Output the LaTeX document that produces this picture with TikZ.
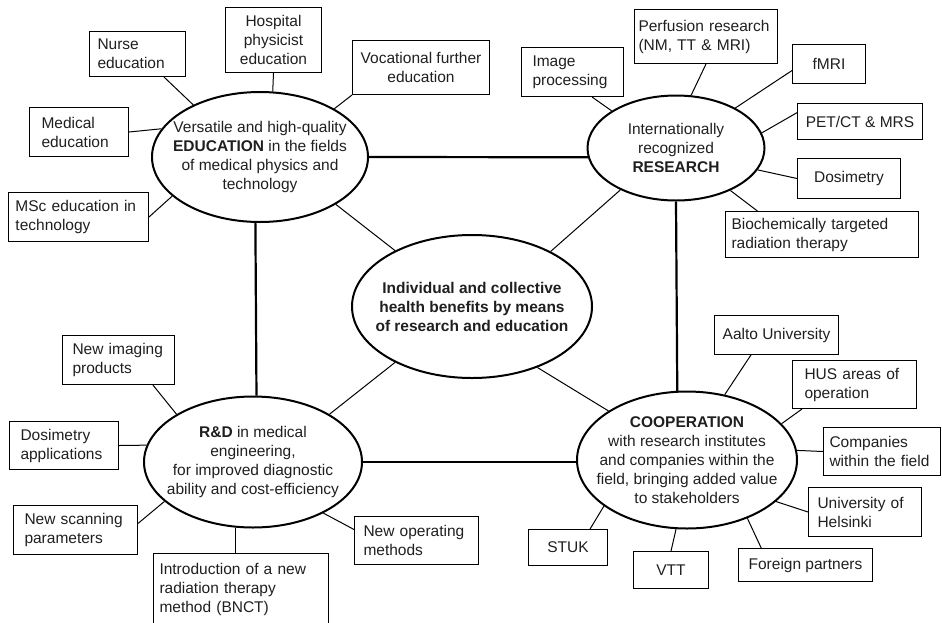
\documentclass[tikz,border=0pt]{standalone}
\usepackage{fontspec}
\setmainfont{Liberation Sans}
\usepackage{xcolor}
\usetikzlibrary{shapes.geometric}
\newcommand{\mapfont}{\fontsize{15.5}{19}\selectfont}
\tikzset{
  topic/.style={
    draw,
    ellipse,
    line width=2pt,
    inner sep=-40pt,
    align=center,
    text=black!88,
    font=\mapfont
  },
  item/.style={
    draw,
    line width=1pt,
    anchor=north west,
    inner sep=0pt,
    text=black!88,
    font=\mapfont
  },
  itemleft/.style={item, align=left},
  itemmid/.style={item, align=center},
  spoke/.style={line width=1pt},
  tie/.style={line width=2.2pt}
}

\begin{document}
\begin{tikzpicture}[x=1pt, y=-1pt]
  \useasboundingbox (0,0) rectangle (942,622);
  \clip (0,0) rectangle (942,622);

  \node[topic, minimum width=216, minimum height=130] (edu) at (260,157) {Versatile and high-quality\\\textbf{EDUCATION} in the fields\\of medical physics and\\technology};
  \node[topic, minimum width=177, minimum height=105] (res) at (676,148) {Internationally\\recognized\\\textbf{RESEARCH}};
  \node[topic, minimum width=240, minimum height=143, font=\mapfont\bfseries] (cen) at (472,306.5) {Individual and collective\\health benefits by means\\of research and education};
  \node[topic, minimum width=218, minimum height=131] (rd) at (253,462) {\textbf{R\&D} in medical\\engineering,\\for improved diagnostic\\ability and cost-efficiency};
  \node[topic, minimum width=220, minimum height=137] (coop) at (687,460) {\textbf{COOPERATION}\\with research institutes\\and companies within the\\field, bringing added value\\to stakeholders};

  \node[itemleft, minimum width=96, minimum height=45, text width=80] (nurse) at (89,31) {Nurse\\education};
  \node[itemmid, minimum width=96, minimum height=65] (hosp) at (225,7) {Hospital\\physicist\\education};
  \node[itemleft, minimum width=99, minimum height=49, text width=75] (med) at (29,107) {Medical\\education};
  \node[itemleft, minimum width=140, minimum height=49, text width=126] (msc) at (8,192) {MSc education in\\technology};
  \node[itemmid, minimum width=137, minimum height=54] (voc) at (352,40) {Vocational further\\education};

  \node[itemleft, minimum width=102, minimum height=49, text width=80] (img) at (521,47) {Image\\processing};
  \node[itemleft, minimum width=143, minimum height=54, text width=135] (perf) at (634,9) {Perfusion research\\(NM, TT \& MRI)};
  \node[itemmid, minimum width=73, minimum height=39] (fmri) at (792,44) {fMRI};
  \node[itemmid, minimum width=125, minimum height=36] (pet) at (797,103) {PET/CT \& MRS};
  \node[itemmid, minimum width=103, minimum height=40] (dos) at (797,158) {Dosimetry};
  \node[itemleft, minimum width=193, minimum height=46, text width=181] (bio) at (725,211) {Biochemically targeted\\radiation therapy};

  \node[itemleft, minimum width=112, minimum height=49, text width=92] (imgprod) at (62,335) {New imaging\\products};
  \node[itemleft, minimum width=109, minimum height=48, text width=87] (dosapp) at (9,421) {Dosimetry\\applications};
  \node[itemleft, minimum width=124, minimum height=49, text width=102] (scan) at (13,505) {New scanning\\parameters};
  \node[itemleft, minimum width=175, minimum height=72, text width=163] (bnct) at (153,553) {Introduction of a new\\radiation therapy\\method (BNCT)};
  \node[itemleft, minimum width=124, minimum height=48, text width=106] (ops) at (354,516) {New operating\\methods};

  \node[itemmid, minimum width=124, minimum height=39] (aalto) at (714,315) {Aalto University};
  \node[itemleft, minimum width=124, minimum height=48, text width=100] (hus) at (792,360) {HUS areas of\\operation};
  \node[itemleft, minimum width=117, minimum height=48, text width=105] (comp) at (823,427) {Companies\\within the field};
  \node[itemleft, minimum width=113, minimum height=49, text width=95] (hel) at (808,487) {University of\\Helsinki};
  \node[itemmid, minimum width=134, minimum height=33] (foreign) at (738,548) {Foreign partners};
  \node[itemmid, minimum width=75, minimum height=37] (vtt) at (633,551) {VTT};
  \node[itemmid, minimum width=79, minimum height=36] (stuk) at (528,529) {STUK};

  \draw[tie] (edu.east) -- (res.186);
  \draw[tie] (edu.266) -- (rd.87);
  \draw[tie] (res.south) -- (coop.98);
  \draw[tie] (rd.east) -- (rd.east -| coop.west);

  \draw[spoke] (cen.144) -- (edu.328);
  \draw[spoke] (cen.35) -- (res.217);
  \draw[spoke] (cen.216) -- (rd.32);
  \draw[spoke] (cen.317) -- (coop.148);

  \draw[spoke] (nurse.319) -- (edu.142);
  \draw[spoke] (hosp.south) -- (edu.79);
  \draw[spoke] (med.east) -- (edu.164);
  \draw[spoke] (msc.east) -- (edu.204);
  \draw[spoke] (voc.south west) -- (edu.33);

  \draw[spoke] (img.308) -- (res.150);
  \draw[spoke] (perf.south) -- (res.74);
  \draw[spoke] (fmri.190) -- (res.34);
  \draw[spoke] (pet.172) -- (res.10);
  \draw[spoke] (dos.west) -- (res.345);
  \draw[spoke] (bio.160) -- (res.322);

  \draw[spoke] (imgprod.324) -- (rd.148);
  \draw[spoke] (dosapp.east) -- (rd.171);
  \draw[spoke] (scan.6) -- (rd.204);
  \draw[spoke] (rd.255) -- (rd.255 |- bnct.north);
  \draw[spoke] (ops.170) -- (rd.324);

  \draw[spoke] (aalto.218) -- (coop.60);
  \draw[spoke] (hus.205) -- (coop.21);
  \draw[spoke] (comp.west) -- (coop.5);
  \draw[spoke] (hel.west) -- (coop.335);
  \draw[spoke] (foreign.159) -- (coop.316);
  \draw[spoke] (vtt.north) -- (coop.261);
  \draw[spoke] (stuk.40) -- (coop.209);
\end{tikzpicture}
\end{document}
